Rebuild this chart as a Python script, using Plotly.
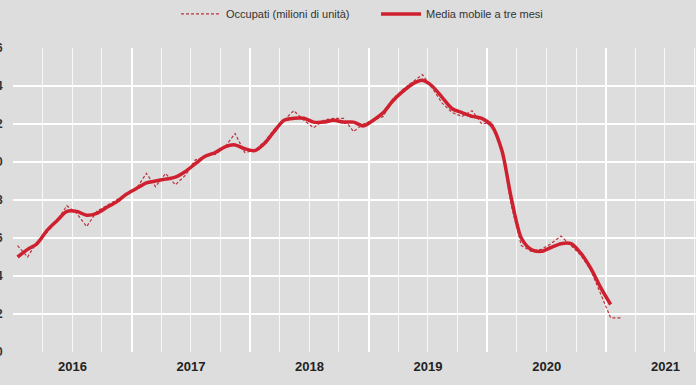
import pandas as pd
import plotly.graph_objects as go

# Monthly employed (millions), Jan 2016 - Feb 2021
occupati = [22.56, 22.50, 22.58, 22.63, 22.69, 22.77, 22.73, 22.66, 22.74, 22.77, 22.80, 22.83,
            22.86, 22.94, 22.87, 22.94, 22.88, 22.93, 23.01, 23.03, 23.04, 23.08, 23.15, 23.05,
            23.06, 23.11, 23.17, 23.22, 23.27, 23.22, 23.18, 23.22, 23.23, 23.23, 23.16, 23.20,
            23.22, 23.24, 23.33, 23.38, 23.42, 23.46, 23.39, 23.31, 23.26, 23.24, 23.27, 23.20,
            23.21, 23.07, 22.77, 22.56, 22.53, 22.54, 22.57, 22.61, 22.56, 22.51, 22.43, 22.31,
            22.18, 22.18]
# Three-month moving average, Jan 2016 - Jan 2021
media_mobile = [22.50, 22.54, 22.57, 22.64, 22.69, 22.74, 22.74, 22.72, 22.73, 22.76, 22.79, 22.83,
                22.86, 22.89, 22.90, 22.91, 22.92, 22.95, 22.99, 23.03, 23.05, 23.08, 23.09, 23.07,
                23.06, 23.10, 23.16, 23.22, 23.23, 23.23, 23.21, 23.21, 23.22, 23.21, 23.21, 23.19,
                23.22, 23.26, 23.32, 23.37, 23.41, 23.43, 23.40, 23.34, 23.28, 23.26, 23.24, 23.23,
                23.19, 23.06, 22.81, 22.60, 22.54, 22.53, 22.55, 22.57, 22.57, 22.52, 22.44, 22.34,
                22.25]

months = pd.date_range("2016-01-01", periods=len(occupati), freq="MS") + pd.Timedelta(days=14)
months_ma = months[:len(media_mobile)]

BG = "#dddddd"
RED = "#cf2030"
DRED = "#b8343f"

fig = go.Figure()
fig.add_trace(go.Scatter(
    x=months, y=occupati, mode="lines", name="Occupati (milioni di unità)",
    line=dict(color=DRED, width=1.2, dash="3px,2px")))
fig.add_trace(go.Scatter(
    x=months_ma, y=media_mobile, mode="lines", name="Media mobile a tre mesi",
    line=dict(color=RED, width=3.5, shape="spline", smoothing=0.8)))

fig.update_layout(
    width=696, height=385,
    margin=dict(l=13, r=0, t=48, b=33, autoexpand=False),
    paper_bgcolor=BG, plot_bgcolor=BG,
    separators=",.",
    font=dict(family="Liberation Sans, Arial, sans-serif", color="#222222"),
    legend=dict(orientation="h", x=0.2387, xanchor="left", y=1.112, yanchor="middle",
                bgcolor="rgba(0,0,0,0)", itemwidth=40, entrywidth=145, entrywidthmode="pixels",
                font=dict(family="Liberation Sans Narrow, Arial Narrow, Liberation Sans, sans-serif",
                          size=11, color="#333333")),
    xaxis=dict(type="date", range=["2016-01-01", "2021-10-05"],
               dtick="M12", tick0="2016-01-01", tickformat="%Y", ticklabelmode="period",
               showgrid=True, gridcolor="white", gridwidth=2,
               minor=dict(dtick="M3", tick0="2016-01-01", showgrid=True,
                          gridcolor="rgba(255,255,255,0.8)", gridwidth=1.3),
               ticks="", zeroline=False, showline=False, automargin=False,
               ticklabelstandoff=5,
               tickfont=dict(family="Liberation Sans, Arial, sans-serif", size=13,
                             color="#222222", weight="bold"),
               ),
    yaxis=dict(range=[22.0, 23.6], dtick=0.2, tick0=22.0, tickformat=".1f",
               showgrid=True, gridcolor="white", gridwidth=2,
               ticks="outside", ticklen=7, tickcolor=BG, zeroline=False, showline=False,
               automargin=False,
               tickfont=dict(family="Liberation Sans, Arial, sans-serif", size=12,
                             color="#333333", weight="bold")),
)

fig.write_html("out.html", config={"displayModeBar": False},
               post_script="document.body.style.margin='0';document.body.style.background='%s';" % BG)
